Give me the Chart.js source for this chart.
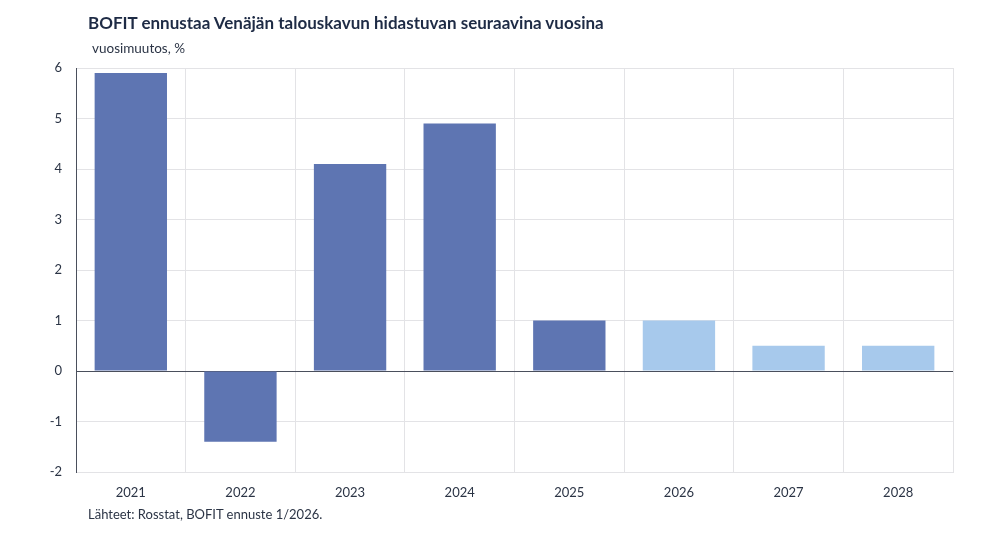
<!DOCTYPE html>
<html lang="fi">
<head>
<meta charset="utf-8">
<script src="https://cdn.jsdelivr.net/npm/chart.js@4/dist/chart.umd.min.js"></script>
<style>
  html, body { margin: 0; padding: 0; background: #fff; }
  #wrap { position: relative; width: 998px; height: 540px; font-family: Lato, "Open Sans", sans-serif; }
  #otsikko { position: absolute; left: 88px; top: 12px; font-size: 17px; font-weight: bold; color: #1e2b45; }
  #yksikko { position: absolute; left: 92px; top: 40px; font-size: 13.5px; color: #2b3445; }
  #lahde { position: absolute; left: 88px; top: 506px; font-size: 13px; color: #2b3445; }
  canvas { position: absolute; left: 0; top: 0; }
</style>
</head>
<body>
<div id="wrap">
  <canvas id="kuvio" width="998" height="540"></canvas>
  <div id="otsikko">BOFIT ennustaa Venäjän talouskavun hidastuvan seuraavina vuosina</div>
  <div id="yksikko">vuosimuutos, %</div>
  <div id="lahde">Lähteet: Rosstat, BOFIT ennuste 1/2026.</div>
</div>
<script>
// Vuodet ja BKT:n vuosimuutos (%), 2026–2028 ennuste
const vuodet = ['2021', '2022', '2023', '2024', '2025', '2026', '2027', '2028'];
const muutos = [5.9, -1.4, 4.1, 4.9, 1.0, 1.0, 0.5, 0.5];
const ennuste = [false, false, false, false, false, true, true, true];

const toteutunutVari = '#5e75b2';
const ennusteVari = '#a7c9ec';

const ctx = document.getElementById('kuvio').getContext('2d');
new Chart(ctx, {
  type: 'bar',
  data: {
    labels: vuodet,
    datasets: [{
      data: muutos,
      backgroundColor: ennuste.map(e => e ? ennusteVari : toteutunutVari),
      borderWidth: 0,
      barPercentage: 0.66,
      categoryPercentage: 1.0
    }]
  },
  options: {
    responsive: false,
    animation: false,
    layout: { padding: { top: 68, right: 45, bottom: 40, left: 0 } },
    plugins: {
      legend: { display: false },
      tooltip: { enabled: false }
    },
    scales: {
      x: {
        grid: { color: '#e3e3e6', drawTicks: false, offset: true },
        border: { color: '#e3e3e6' },
        ticks: { color: '#2b3445', font: { family: 'Lato', size: 13 }, padding: 13 },
        afterFit: (scale) => { scale.height = 28; }
      },
      y: {
        min: -2,
        max: 6,
        ticks: { stepSize: 1, color: '#2b3445', font: { family: 'Lato', size: 13 }, padding: 14 },
        grid: {
          drawTicks: false,
          color: (c) => c.tick && c.tick.value === 0 ? '#4a4f5c' : '#e3e3e6'
        },
        border: { color: '#4a4f5c' },
        afterFit: (scale) => { scale.width = 76; }
      }
    }
  }
});
</script>
</body>
</html>
